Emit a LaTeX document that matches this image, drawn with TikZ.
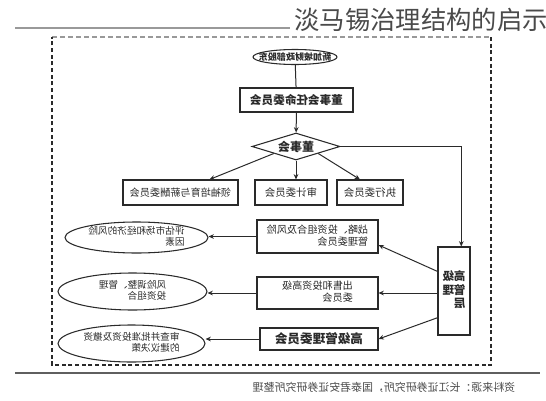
\documentclass[tikz,border=0pt]{standalone}
\usepackage{fontspec}
\setmainfont{Noto Sans CJK SC}
\usetikzlibrary{shapes.geometric,arrows.meta,calc}
\definecolor{ink}{HTML}{2A2A2A}
\definecolor{frame}{HTML}{999999}
\tikzset{
  box/.style={draw=ink,line width=0.8pt,rectangle,inner sep=0pt},
  oval/.style={draw=ink,line width=0.8pt,ellipse,inner sep=0pt},
  mir/.style={xscale=-1,transform shape,inner sep=0pt,text=ink,align=left},
  conn/.style={draw=ink,line width=0.75pt},
  arr/.style={conn,-{Stealth[length=4pt,width=3.5pt]}},
}
\newcommand{\mtwo}[2]{\renewcommand{\arraystretch}{0.95}\begin{tabular}{@{}l@{}}#1\\#2\end{tabular}}
\begin{document}
\begin{tikzpicture}[x=0.75pt,y=-0.75pt]
\useasboundingbox (0,0) rectangle (546,400);
% title and rules
\node[anchor=east,inner sep=0pt,text=ink!85,font=\fontsize{19pt}{19pt}\selectfont] (title) at (548,20) {淡马锡治理结构的启示};
\coordinate (tl1) at (15,28);
\coordinate (tl2) at (290,28);
\draw[frame,line width=0.8pt] (tl1) -- (tl2);
% dashed frame
\coordinate (f1) at (52,37);
\coordinate (f2) at (491,37);
\coordinate (f3) at (491,365);
\coordinate (f4) at (52,365);
\draw[frame,line width=0.9pt,dash pattern=on 3.5pt off 2.5pt] (f1) -- (f2);
\draw[ink,line width=1.1pt,dash pattern=on 3pt off 2pt] (f2) -- (f3) -- (f4) -- (f1);
% bottom rule and caption
\coordinate (bl1) at (15,373);
\coordinate (bl2) at (540,373);
\draw[ink!75,line width=1.1pt] (bl1) -- (bl2);
\node[mir,text=ink!85,font=\fontsize{8.2pt}{8.2pt}\selectfont] (cap) at (384,387) {资料来源：长江证券研究所，国泰君安证券研究所整理};
% top of the hierarchy
\node[oval,minimum width=63pt,minimum height=11.25pt] (top) at (295,57) {};
\node[mir,font=\fontsize{6.8pt}{6.8pt}\selectfont\bfseries] (top-t) at (top) {新加坡财政部股东};
\node[box,minimum width=84.75pt,minimum height=18pt] (appoint) at (296.5,100) {};
\node[mir,font=\fontsize{8.7pt}{8.7pt}\selectfont\bfseries] (appoint-t) at (appoint) {董事会任命委员会};
\node[draw=ink,line width=0.8pt,diamond,inner sep=0pt,minimum width=66pt,minimum height=20.25pt] (board) at (296,146.5) {};
\node[mir,font=\fontsize{9pt}{9pt}\selectfont\bfseries] (board-t) at (board) {董事会};
% committees
\node[box,minimum width=86.25pt,minimum height=18.75pt] (lead) at (180.5,192.5) {};
\node[mir,font=\fontsize{7.6pt}{7.6pt}\selectfont] (lead-t) at (lead) {领袖培育与薪酬委员会};
\node[box,minimum width=54pt,minimum height=18.75pt] (audit) at (291,192.5) {};
\node[mir,font=\fontsize{7.8pt}{7.8pt}\selectfont] (audit-t) at (audit) {审计委员会};
\node[box,minimum width=49.5pt,minimum height=18.75pt] (exec) at (370,192.5) {};
\node[mir,font=\fontsize{7.8pt}{7.8pt}\selectfont] (exec-t) at (exec) {执行委员会};
% senior management
\node[box,minimum width=24pt,minimum height=66pt] (mgmt) at (454,291) {};
\node[mir,font=\fontsize{8.6pt}{9.6pt}\selectfont\bfseries] (mgmt-t) at (mgmt) {\begin{tabular}{@{}l@{}}高级\\管理\\层\end{tabular}};
\node[box,minimum width=90.75pt,minimum height=24.75pt] (spr) at (317.5,236.5) {};
\node[mir,font=\fontsize{7.6pt}{8.6pt}\selectfont] (spr-t) at (spr) {\mtwo{战略、投资组合及风险}{管理委员会}};
\node[box,minimum width=90.75pt,minimum height=24pt] (sdi) at (317.5,293) {};
\node[mir,font=\fontsize{7.6pt}{8.6pt}\selectfont] (sdi-t) at (sdi) {\mtwo{出售和投资高级}{委员会}};
\node[box,minimum width=88.5pt,minimum height=16.5pt] (smc) at (319,339) {};
\node[mir,font=\fontsize{9.4pt}{9.4pt}\selectfont\bfseries] (smc-t) at (smc) {高级管理委员会};
% functions
\node[oval,minimum width=107.25pt,minimum height=23.25pt] (e1) at (136.5,237.5) {};
\node[mir,font=\fontsize{7.2pt}{8.4pt}\selectfont] (e1-t) at (e1) {\mtwo{评估市场和经济的风险}{因素}};
\node[oval,minimum width=111.75pt,minimum height=27.75pt] (e2) at (132.5,291.5) {};
\node[mir,font=\fontsize{7.2pt}{8.6pt}\selectfont] (e2-t) at (e2) {\mtwo{风险调整、管理}{投资组合}};
\node[oval,minimum width=110.25pt,minimum height=27.75pt] (e3) at (131.5,343.5) {};
\node[mir,font=\fontsize{7.2pt}{8.6pt}\selectfont] (e3-t) at (e3) {\mtwo{审查并批准投资及撤资}{的建议决策}};
% connectors
\draw[conn] (top) -- (appoint);
\draw[arr] (appoint) -- (board);
\draw[arr] (board.south west) -- ($(lead.north west)!0.75!(lead.north east)$);
\draw[arr] (board.south) -- (board.south |- audit.north);
\draw[arr] (board.south east) -- ($(exec.north west)!0.35!(exec.north east)$);
\coordinate (mgin) at ($(mgmt.north west)!0.72!(mgmt.north east)$);
\draw[arr] (board.east) -| (mgin);
\draw[arr] ($(mgmt.north west)!0.28!(mgmt.south west)$) -- ($(spr.north east)!0.75!(spr.south east)$);
\draw[arr] (mgmt.west |- sdi.east) -- (sdi.east);
\draw[arr] ($(mgmt.north west)!0.8!(mgmt.south west)$) -- (smc.east);
\draw[arr] (spr.west) -- (spr.west -| e1.east);
\draw[arr] (sdi.west) -- (sdi.west -| e2.east);
\draw[arr] (smc.west) -- (smc.west -| e3.east);
\end{tikzpicture}
\end{document}
